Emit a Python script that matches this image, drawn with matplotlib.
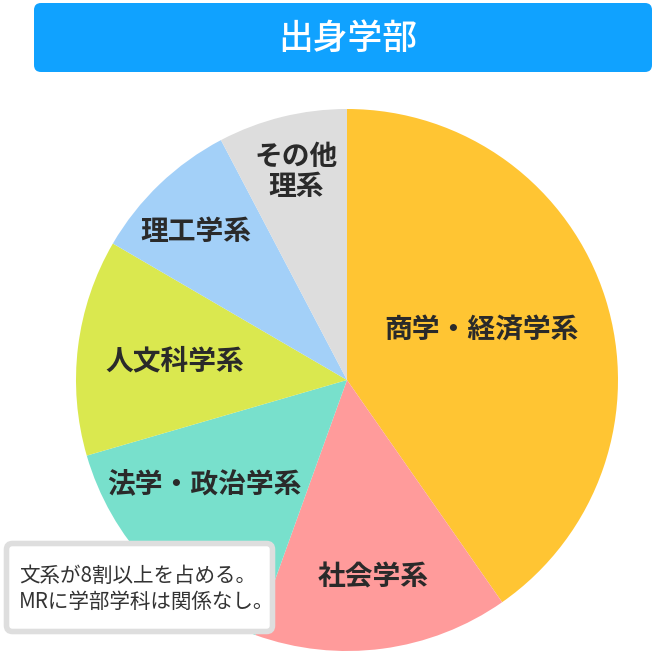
import numpy as np
import matplotlib.pyplot as plt
from matplotlib.patches import FancyBboxPatch

plt.rcParams['font.family'] = ['Noto Sans CJK JP', 'DejaVu Sans']

# データ（画像から読み取った割合 %）
labels = ['商学・経済学系', '社会学系', '法学・政治学系', '人文科学系', '理工学系', 'その他\n理系']
shares = [40.3, 15.2, 15.0, 12.9, 8.9, 7.7]
colors = ['#FFC533', '#FF9B9B', '#78E0CC', '#DAE84F', '#A3D0F8', '#DDDDDD']
title = '出身学部'
note = '文系が8割以上を占める。\nMRに学部学科は関係なし。'

# ラベル位置の調整（半径比, 時計回りの角度ずれ）
label_dist = [0.53, 0.735, 0.65, 0.64, 0.78, 0.79]
label_shift = [-3, 0, 7, -1, -2, 0]

W, H = 660, 655
fig = plt.figure(figsize=(W / 100, H / 100), dpi=100)
ax = fig.add_axes([0, 0, 1, 1])

# 円グラフ
cx, cy, r = 347, H - 380, 271
wedges, _ = ax.pie(shares, colors=colors, startangle=90, counterclock=False,
                   center=(cx, cy), radius=r, frame=True,
                   wedgeprops=dict(linewidth=0))
ax.set_xlim(0, W)
ax.set_ylim(0, H)
ax.set_aspect('equal')
ax.axis('off')

for w, lab, d, s in zip(wedges, labels, label_dist, label_shift):
    mid = np.deg2rad((w.theta1 + w.theta2) / 2 - s)
    x = cx + d * r * np.cos(mid)
    y = cy + d * r * np.sin(mid)
    ax.text(x, y, lab, ha='center', va='center', fontsize=20,
            fontweight='bold', color='#2a2a2a', linespacing=1.1)

# タイトルバー
bar = FancyBboxPatch((34, H - 72), 618, 69, boxstyle='round,pad=0,rounding_size=7',
                     facecolor='#10A2FF', edgecolor='none')
ax.add_patch(bar)
ax.text(348, H - 39, title, ha='center', va='center', fontsize=25,
        color='white', fontweight='medium')

# 注記ボックス
box = FancyBboxPatch((6.5, H - 631.5), 266, 88, boxstyle='round,pad=0,rounding_size=6',
                     facecolor='white', edgecolor='#DEDEDE', linewidth=4)
ax.add_patch(box)
ax.text(19, H - 589, note, ha='left', va='center', fontsize=14.8,
        color='#333333', linespacing=1.25)

fig.savefig('out.png', dpi=100)
